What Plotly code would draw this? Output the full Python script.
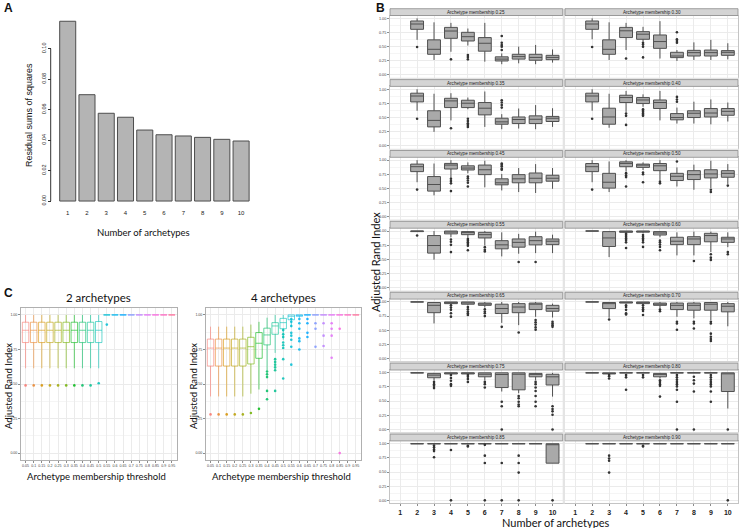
import math
import plotly.graph_objects as go

W, H = 740, 528

# ---------------- panel A: residual sums of squares
a_archetypes = [1, 2, 3, 4, 5, 6, 7, 8, 9, 10]
a_rss = [0.118, 0.0698, 0.0576, 0.055, 0.0466, 0.0435, 0.0427, 0.0418, 0.0405, 0.0394]

# ---------------- panel B: ARI per number of archetypes (2..10), one row per facet
b_memberships = ["0.25", "0.30", "0.35", "0.40", "0.45", "0.50", "0.55",
                 "0.60", "0.65", "0.70", "0.75", "0.80", "0.85", "0.90"]
b_archetypes = [2, 3, 4, 5, 6, 7, 8, 9, 10]
b_hi = [
    [1.0, 0.93, 0.92, 0.82, 0.92, 0.38, 0.50, 0.53, 0.45],
    [1.0, 0.93, 0.92, 0.85, 0.95, 0.44, 0.576, 0.62, 0.56],
    [1.0, 0.92, 0.93, 0.853, 0.96, 0.56, 0.66, 0.72, 0.665],
    [1.0, 0.92, 0.97, 0.91, 0.97, 0.676, 0.78, 0.82, 0.765],
    [1.0, 0.94, 1.0, 0.96, 0.99, 0.756, 0.86, 0.93, 0.86],
    [1.0, 0.977, 1.0, 0.96, 1.0, 0.872, 0.92, 0.99, 0.93],
    [1.0, 1.0, 1.0, 1.0, 1.0, 0.977, 0.95, 0.99, 0.936],
    [1.0, 1.0, 1.0, 1.0, 1.0, 0.977, 0.99, 0.99, 0.977],
    [1.0, 1.0, 1.0, 1.0, 1.0, 1.0, 1.0, 1.0, 0.97],
    [1.0, 1.0, 1.0, 1.0, 1.0, 1.0, 1.0, 1.0, 1.0],
    [1.0, 1.0, 1.0, 1.0, 1.0, 1.0, 1.0, 1.0, 1.0],
    [1.0, 1.0, 1.0, 1.0, 1.0, 1.0, 1.0, 1.0, 1.0],
    [1.0, 1.0, 1.0, 1.0, 1.0, 1.0, 1.0, 1.0, 1.0],
    [1.0, 1.0, 1.0, 1.0, 1.0, 1.0, 1.0, 1.0, 1.0],
]
b_q3 = [
    [0.953, 0.62, 0.84, 0.753, 0.66, 0.32, 0.365, 0.365, 0.347],
    [0.953, 0.62, 0.84, 0.765, 0.706, 0.40, 0.435, 0.44, 0.43],
    [0.93, 0.62, 0.84, 0.806, 0.765, 0.488, 0.51, 0.53, 0.52],
    [0.93, 0.665, 0.894, 0.853, 0.81, 0.57, 0.62, 0.66, 0.66],
    [0.93, 0.71, 0.942, 0.90, 0.913, 0.67, 0.744, 0.773, 0.733],
    [0.94, 0.767, 0.97, 0.93, 0.94, 0.767, 0.814, 0.83, 0.814],
    [1.0, 0.92, 1.0, 0.99, 0.977, 0.83, 0.86, 0.90, 0.86],
    [1.0, 0.99, 1.0, 1.0, 0.99, 0.89, 0.90, 0.96, 0.89],
    [1.0, 0.99, 1.0, 1.0, 0.98, 0.96, 0.97, 0.98, 0.94],
    [1.0, 0.99, 1.0, 1.0, 0.98, 0.98, 0.98, 0.99, 0.97],
    [1.0, 0.99, 1.0, 1.0, 1.0, 1.0, 1.0, 0.99, 0.975],
    [1.0, 1.0, 1.0, 1.0, 0.99, 1.0, 1.0, 1.0, 1.0],
    [1.0, 1.0, 1.0, 1.0, 1.0, 1.0, 1.0, 1.0, 1.0],
    [1.0, 1.0, 1.0, 1.0, 1.0, 1.0, 1.0, 1.0, 1.0],
]
b_med = [
    [0.90, 0.453, 0.776, 0.676, 0.56, 0.28, 0.324, 0.31, 0.31],
    [0.90, 0.453, 0.78, 0.72, 0.59, 0.335, 0.394, 0.394, 0.40],
    [0.88, 0.45, 0.794, 0.753, 0.665, 0.424, 0.465, 0.47, 0.488],
    [0.88, 0.51, 0.853, 0.81, 0.765, 0.50, 0.576, 0.58, 0.61],
    [0.884, 0.57, 0.913, 0.86, 0.83, 0.60, 0.67, 0.68, 0.68],
    [0.884, 0.61, 0.942, 0.913, 0.90, 0.715, 0.744, 0.756, 0.767],
    [1.0, 0.744, 0.99, 0.977, 0.936, 0.756, 0.80, 0.83, 0.82],
    [1.0, 0.878, 0.994, 0.994, 0.965, 0.82, 0.86, 0.92, 0.86],
    [1.0, 0.94, 0.994, 0.99, 0.97, 0.883, 0.91, 0.96, 0.883],
    [1.0, 0.97, 0.994, 0.994, 0.96, 0.94, 0.94, 0.96, 0.924],
    [1.0, 0.96, 0.995, 0.995, 0.975, 0.97, 0.975, 0.975, 0.93],
    [1.0, 0.99, 1.0, 1.0, 0.975, 1.0, 1.0, 1.0, 1.0],
    [1.0, 1.0, 1.0, 1.0, 1.0, 1.0, 1.0, 1.0, 1.0],
    [1.0, 1.0, 1.0, 1.0, 1.0, 1.0, 1.0, 1.0, 1.0],
]
b_q1 = [
    [0.806, 0.365, 0.647, 0.60, 0.42, 0.247, 0.28, 0.26, 0.27],
    [0.806, 0.365, 0.66, 0.63, 0.47, 0.306, 0.335, 0.335, 0.347],
    [0.776, 0.335, 0.676, 0.676, 0.547, 0.382, 0.394, 0.394, 0.43],
    [0.776, 0.382, 0.765, 0.747, 0.66, 0.46, 0.50, 0.51, 0.54],
    [0.797, 0.453, 0.843, 0.826, 0.744, 0.564, 0.60, 0.60, 0.628],
    [0.797, 0.506, 0.884, 0.872, 0.814, 0.64, 0.657, 0.686, 0.698],
    [0.99, 0.61, 0.95, 0.936, 0.878, 0.686, 0.715, 0.756, 0.76],
    [1.0, 0.727, 0.977, 0.98, 0.93, 0.76, 0.76, 0.81, 0.80],
    [1.0, 0.81, 0.97, 0.96, 0.94, 0.795, 0.81, 0.865, 0.836],
    [1.0, 0.883, 0.98, 0.97, 0.94, 0.865, 0.854, 0.854, 0.825],
    [1.0, 0.913, 0.98, 0.98, 0.93, 0.74, 0.70, 0.93, 0.785],
    [1.0, 0.98, 1.0, 1.0, 0.93, 1.0, 1.0, 1.0, 0.67],
    [1.0, 1.0, 1.0, 1.0, 1.0, 1.0, 1.0, 1.0, 0.657],
    [1.0, 1.0, 1.0, 1.0, 1.0, 1.0, 1.0, 1.0, 1.0],
]
b_lo = [
    [0.62, 0.265, 0.41, 0.52, 0.235, 0.19, 0.206, 0.19, 0.218],
    [0.63, 0.265, 0.44, 0.59, 0.29, 0.247, 0.265, 0.265, 0.276],
    [0.62, 0.247, 0.45, 0.647, 0.335, 0.294, 0.306, 0.294, 0.335],
    [0.62, 0.32, 0.60, 0.69, 0.45, 0.394, 0.394, 0.38, 0.43],
    [0.61, 0.378, 0.686, 0.767, 0.52, 0.465, 0.436, 0.42, 0.494],
    [0.61, 0.436, 0.80, 0.826, 0.65, 0.535, 0.477, 0.506, 0.58],
    [0.99, 0.494, 0.89, 0.878, 0.744, 0.552, 0.60, 0.61, 0.61],
    [1.0, 0.54, 0.96, 0.96, 0.89, 0.57, 0.57, 0.63, 0.715],
    [1.0, 0.62, 0.95, 0.94, 0.90, 0.63, 0.59, 0.737, 0.725],
    [1.0, 0.72, 0.97, 0.95, 0.883, 0.737, 0.71, 0.68, 0.57],
    [1.0, 0.87, 0.97, 0.97, 0.87, 0.67, 0.64, 0.87, 0.58],
    [1.0, 0.98, 1.0, 1.0, 0.90, 1.0, 1.0, 1.0, 0.37],
    [1.0, 1.0, 1.0, 1.0, 1.0, 1.0, 1.0, 1.0, 0.657],
    [1.0, 1.0, 1.0, 1.0, 1.0, 1.0, 1.0, 1.0, 1.0],
]
b_out = [
    [[0.494], [], [0.276], [0.353, 0.318, 0.276], [], [0.688, 0.57, 0.53, 0.50, 0.44], [], [], []],
    [[0.494], [], [0.29], [0.57, 0.54, 0.50, 0.31], [], [0.753, 0.63, 0.60, 0.57], [], [], []],
    [[0.48], [], [0.31], [0.48, 0.44, 0.40, 0.37, 0.335], [], [0.806, 0.765, 0.72, 0.676], [], [], []],
    [[0.48], [], [0.57, 0.53, 0.37], [0.647, 0.62, 0.60, 0.57, 0.55, 0.53], [], [0.865, 0.82, 0.78], [], [], []],
    [[0.48], [], [0.67, 0.63, 0.59, 0.453], [0.71, 0.68, 0.64, 0.60, 0.535], [], [0.94, 0.92, 0.89, 0.85, 0.83], [], [], []],
    [[0.48], [], [0.77, 0.73, 0.70, 0.535], [0.78, 0.75, 0.61], [0.62, 0.59], [0.977], [], [0.477, 0.436], [0.55]],
    [[0.92], [], [0.85, 0.81, 0.756, 0.628], [0.86, 0.83, 0.80, 0.77, 0.74, 0.66], [0.715, 0.67, 0.64], [], [0.453], [0.453], []],
    [[], [], [0.95, 0.93, 0.90, 0.87, 0.84, 0.80, 0.70], [0.93, 0.90, 0.87, 0.84, 0.80, 0.72],
     [0.83, 0.80, 0.76, 0.72, 0.66], [], [0.47], [0.59, 0.53, 0.49], [0.63, 0.59]],
    [[], [], [0.94, 0.90, 0.86, 0.80, 0.74], [0.91, 0.87, 0.83, 0.80, 0.77], [0.87, 0.83, 0.80, 0.75],
     [0.56], [0.46], [0.68, 0.64, 0.60, 0.55, 0.51], [0.65, 0.62, 0.59, 0.56]],
    [[], [0.69], [0.94, 0.91, 0.86, 0.80, 0.78], [0.94, 0.90, 0.87, 0.84, 0.77], [0.865, 0.836],
     [0.65, 0.62, 0.51], [0.65, 0.62, 0.53], [0.65, 0.62, 0.44, 0.386, 0.345, 0.31], []],
    [[], [0.84, 0.80, 0.77, 0.73], [0.96, 0.91, 0.86, 0.80, 0.77], [0.96, 0.93, 0.89, 0.84], [0.84, 0.80, 0.74],
     [0.49, 0.41, 0.0], [0.59, 0.55, 0.49, 0.44, 0.41], [0.84, 0.80, 0.74, 0.68, 0.59, 0.49, 0.41],
     [0.41, 0.36, 0.32, 0.26, 0.0]],
    [[], [0.96, 0.94, 0.90], [0.96, 0.92, 0.70], [0.96, 0.92], [0.87, 0.84, 0.80, 0.77, 0.58],
     [0.96, 0.92, 0.88, 0.84, 0.80, 0.76, 0.70, 0.49, 0.0], [0.93, 0.87, 0.81, 0.67, 0.0],
     [0.96, 0.92, 0.88, 0.84, 0.80, 0.76, 0.67, 0.49], [0.0]],
    [[], [0.97, 0.94, 0.90, 0.87, 0.76], [0.89, 0.0], [0.965, 0.95], [0.98, 0.79, 0.66, 0.0],
     [0.66, 0.0], [0.79, 0.66, 0.49, 0.0], [], [0.0]],
    [[], [0.79, 0.74, 0.70, 0.49], [], [0.965, 0.95], [], [], [], [], [0.0]],
]

# ---------------- panel C: ARI against membership threshold
c_thresholds = ["0.05", "0.1", "0.15", "0.2", "0.25", "0.3", "0.35", "0.4", "0.45", "0.5",
                "0.55", "0.6", "0.65", "0.7", "0.75", "0.8", "0.85", "0.9", "0.95"]
c2_hi = [1.0, 1.0, 1.0, 1.0, 1.0, 1.0, 1.0, 1.0, 1.0, 1.0, 1.0, 1.0, 1.0, 1.0, 1.0, 1.0, 1.0, 1.0, 1.0]
c2_q3 = [0.947, 0.947, 0.947, 0.947, 0.947, 0.947, 0.947, 0.947, 0.947, 0.952, 1.0, 1.0, 1.0, 1.0, 1.0, 1.0, 1.0, 1.0, 1.0]
c2_med = [0.889, 0.889, 0.889, 0.889, 0.889, 0.889, 0.889, 0.889, 0.889, 0.889, 1.0, 1.0, 1.0, 1.0, 1.0, 1.0, 1.0, 1.0, 1.0]
c2_q1 = [0.80, 0.80, 0.80, 0.80, 0.80, 0.80, 0.80, 0.80, 0.80, 0.80, 1.0, 1.0, 1.0, 1.0, 1.0, 1.0, 1.0, 1.0, 1.0]
c2_lo = [0.614, 0.614, 0.614, 0.614, 0.614, 0.614, 0.614, 0.614, 0.614, 0.614, 1.0, 1.0, 1.0, 1.0, 1.0, 1.0, 1.0, 1.0, 1.0]
c2_out = [[0.49], [0.49], [0.49], [0.49], [0.49], [0.49], [0.49], [0.49], [0.49], [0.505],
          [0.93], [], [], [], [], [], [], [], []]

c4_hi = [0.915, 0.915, 0.915, 0.915, 0.915, 0.93, 0.95, 0.98, 1.0, 1.0, 1.0, 1.0, 1.0, 1.0, 1.0, 1.0, 1.0, 1.0, 1.0]
c4_q3 = [0.825, 0.825, 0.825, 0.825, 0.825, 0.838, 0.872, 0.904, 0.944, 0.975, 1.0, 1.0, 1.0, 1.0, 1.0, 1.0, 1.0, 1.0, 1.0]
c4_med = [0.76, 0.76, 0.76, 0.76, 0.76, 0.77, 0.795, 0.855, 0.92, 0.944, 0.99, 1.0, 1.0, 1.0, 1.0, 1.0, 1.0, 1.0, 1.0]
c4_q1 = [0.63, 0.63, 0.63, 0.63, 0.63, 0.645, 0.686, 0.783, 0.86, 0.90, 0.965, 0.99, 1.0, 1.0, 1.0, 1.0, 1.0, 1.0, 1.0]
c4_lo = [0.41, 0.41, 0.41, 0.41, 0.41, 0.43, 0.46, 0.60, 0.725, 0.82, 0.91, 0.98, 1.0, 1.0, 1.0, 1.0, 1.0, 1.0, 1.0]
c4_out = [[0.28], [0.28], [0.28], [0.28], [0.28], [0.29], [0.32],
          [0.59, 0.57, 0.55, 0.45, 0.39],
          [0.68, 0.66, 0.64, 0.62, 0.60, 0.45],
          [0.89, 0.86, 0.84, 0.80, 0.78, 0.76, 0.68, 0.54],
          [0.97, 0.95, 0.92, 0.87, 0.85, 0.82, 0.77, 0.64],
          [0.97, 0.94, 0.90, 0.83, 0.81, 0.75],
          [0.97, 0.94, 0.87, 0.84],
          [0.94, 0.90, 0.77],
          [0.94, 0.85, 0.775],
          [0.94, 0.90, 0.85, 0.69],
          [0.90, 0.0],
          [], []]


def hue_rgb(h, c=100.0, l=65.0):
    # polarLUV -> sRGB, the way ggplot builds its default hue palette
    hr = math.radians(h)
    u, v = c * math.cos(hr), c * math.sin(hr)
    xn, yn, zn = 95.047, 100.0, 108.883
    den = xn + 15 * yn + 3 * zn
    un, vn = 4 * xn / den, 9 * yn / den
    y = yn * ((l + 16) / 116) ** 3
    up, vp = u / (13 * l) + un, v / (13 * l) + vn
    x = y * 9 * up / (4 * vp)
    z = y * (12 - 3 * up - 20 * vp) / (4 * vp)
    x, y, z = x / 100, y / 100, z / 100
    rgb = (3.240479 * x - 1.53715 * y - 0.498535 * z,
           -0.969256 * x + 1.875992 * y + 0.041556 * z,
           0.055648 * x - 0.204043 * y + 1.057311 * z)

    def gam(t):
        t = max(0.0, min(1.0, t))
        return 12.92 * t if t <= 0.0031308 else 1.055 * t ** (1 / 2.4) - 0.055
    return tuple(int(round(255 * gam(t))) for t in rgb)


def xdom(l, r):
    return [l / W, r / W]


def ydom(t, b):
    return [1 - b / H, 1 - t / H]


fig = go.Figure()
layout = {}
shapes = []
annots = []
GRID = "#ebebeb"
BORDER = "#8c8c8c"
PANEL = "#c4c4c4"
GAP = "#e4e4e4"

# ---------- A
fig.add_trace(go.Bar(x=a_archetypes, y=a_rss, width=0.833, marker=dict(color="#b4b4b4", line=dict(color="#4d4d4d", width=1)),
                     xaxis="x", yaxis="y", showlegend=False))
layout["xaxis"] = dict(domain=xdom(52.3, 256.5), range=[0.2, 10.8], tickvals=a_archetypes, showgrid=False,
                       zeroline=False, showline=False, ticks="", tickfont=dict(size=6, color="#222"), anchor="y")
layout["yaxis"] = dict(domain=ydom(14.1, 208.2), range=[-0.0047, 0.1227], tickvals=[0, 0.02, 0.04, 0.06, 0.08, 0.10],
                       tickformat=".2f", tickangle=-90, ticks="outside", ticklen=3, tickcolor="#333",
                       showgrid=False, zeroline=False, showline=False, anchor="free", position=50.7 / W,
                       tickfont=dict(size=5.5, color="#222"))
shapes.append(dict(type="line", xref="paper", yref="y", x0=50.7 / W, x1=50.7 / W, y0=0, y1=0.10,
                   line=dict(color="#333", width=1)))
annots += [
    dict(text="Residual sums of squares", x=29 / W, y=1 - 115 / H, textangle=-90, font=dict(size=9, family="Liberation Sans")),
    dict(text="Number of archetypes", x=143 / W, y=1 - 232 / H, font=dict(size=9.5, family="Lato")),
]

# ---------- B
# light grey band between the two facet columns
shapes.append(dict(type="rect", xref="paper", yref="paper", x0=562.7 / W, x1=565 / W,
                   y0=1 - 503.4 / H, y1=1 - 8.7 / H, fillcolor=GAP, line=dict(width=0)))
for k, memb in enumerate(b_memberships):
    idx = k + 2
    row, col = k // 2, k % 2
    xl, xr = (390, 562.7) if col == 0 else (565, 738)
    top = 15.5 + 70.9 * row
    bot = top + 62.3
    xa, ya = f"x{idx}", f"y{idx}"
    fig.add_trace(go.Box(x=b_archetypes, q1=b_q1[k], median=b_med[k], q3=b_q3[k],
                         lowerfence=b_lo[k], upperfence=b_hi[k], width=0.76, whiskerwidth=0,
                         boxpoints=False, fillcolor="#a9a9a9", line=dict(color="#505050", width=1),
                         xaxis=xa, yaxis=ya, showlegend=False, hoverinfo="skip"))
    ox, oy = [], []
    for a, pts in zip(b_archetypes, b_out[k]):
        for p in pts:
            ox.append(a)
            oy.append(p)
    fig.add_trace(go.Scatter(x=ox, y=oy, mode="markers", marker=dict(size=2.6, color="#333"),
                             xaxis=xa, yaxis=ya, showlegend=False, hoverinfo="skip"))
    layout[f"xaxis{idx}"] = dict(domain=xdom(xl, xr), range=[0.4, 10.6], tickvals=list(range(1, 11)),
                                 showticklabels=(row == 6), ticks="outside" if row == 6 else "", ticklen=2,
                                 tickcolor=BORDER, tickfont=dict(size=7, color="#222", weight="bold"),
                                 showgrid=True, gridcolor=GRID, gridwidth=0.8, zeroline=False,
                                 showline=True, mirror=True, linecolor=PANEL, linewidth=0.8, anchor=ya)
    layout[f"yaxis{idx}"] = dict(domain=ydom(top, bot), range=[-0.05, 1.05], tickvals=[0, 0.25, 0.5, 0.75, 1.0],
                                 tickformat=".2f", showticklabels=(col == 0), ticks="outside" if col == 0 else "",
                                 ticklen=2, tickcolor=BORDER, tickfont=dict(size=3.8, color="#444"),
                                 showgrid=True, gridcolor=GRID, gridwidth=0.8, zeroline=False,
                                 minor=dict(tickvals=[0.125, 0.375, 0.625, 0.875], showgrid=True, gridcolor="#f5f5f5"),
                                 showline=True, mirror=True, linecolor=PANEL, linewidth=0.8, anchor=xa)
    shapes.append(dict(type="rect", xref="paper", yref="paper", x0=xl / W, x1=xr / W,
                       y0=1 - top / H, y1=1 - (top - 6.8) / H, fillcolor="#d4d4d4",
                       line=dict(color=BORDER, width=0.8), layer="above"))
    if row < 6 and col == 0:
        # grey band between this row and the next strip
        shapes.append(dict(type="rect", xref="paper", yref="paper", x0=389 / W, x1=739 / W,
                           y0=1 - (top + 64.1) / H, y1=1 - bot / H, fillcolor=GAP, line=dict(width=0)))
    annots.append(dict(text=f"Archetype membership {memb}", x=(xl + xr) / 2 / W, y=1 - (top - 3.4) / H,
                       font=dict(size=4.6, color="#1a1a1a", family="Liberation Sans")))

annots += [
    dict(text="Adjusted Rand Index", x=375 / W, y=1 - 262 / H, textangle=-90, font=dict(size=11, family="Lato")),
    dict(text="Number of archetypes", x=556 / W, y=1 - 522 / H, font=dict(size=11, family="Lato")),
]

# ---------- C
hues = [15 + i * 360 / 19 for i in range(19)]
cols = [hue_rgb(h) for h in hues]
c_pos = list(range(1, 20))
panels = [
    (16, (20.7, 176.7), c2_lo, c2_q1, c2_med, c2_q3, c2_hi, c2_out, "2 archetypes", 8),
    (17, (205.7, 360.7), c4_lo, c4_q1, c4_med, c4_q3, c4_hi, c4_out, "4 archetypes", 193),
]
for idx, (xl, xr), lo, q1, med, q3, hi, out, title, ytx in panels:
    xa, ya = f"x{idx}", f"y{idx}"
    for i in range(19):
        r, g, b = cols[i]
        fig.add_trace(go.Box(x=[c_pos[i]], q1=[q1[i]], median=[med[i]], q3=[q3[i]],
                             lowerfence=[lo[i]], upperfence=[hi[i]], width=0.8, whiskerwidth=0,
                             boxpoints=False, fillcolor="rgba(255,255,255,0)",
                             line=dict(color=f"rgba({r},{g},{b},0.6)", width=1),
                             xaxis=xa, yaxis=ya, showlegend=False, hoverinfo="skip"))
        if out[i]:
            fig.add_trace(go.Scatter(x=[c_pos[i]] * len(out[i]), y=out[i], mode="markers",
                                     marker=dict(size=2.6, color=f"rgba({r},{g},{b},0.85)"),
                                     xaxis=xa, yaxis=ya, showlegend=False, hoverinfo="skip"))
    layout[f"xaxis{idx}"] = dict(domain=xdom(xl, xr), range=[0.4, 19.6], tickvals=c_pos, ticktext=c_thresholds,
                                 ticks="outside", ticklen=1.5, tickcolor=BORDER,
                                 tickfont=dict(size=3.6, color="#444"), showgrid=True, gridcolor=GRID,
                                 zeroline=False, showline=True, mirror=True, linecolor="#b0b0b0",
                                 linewidth=1.2, anchor=ya)
    layout[f"yaxis{idx}"] = dict(domain=ydom(308, 460), range=[-0.05, 1.05], tickvals=[0, 0.25, 0.5, 0.75, 1.0],
                                 tickformat=".2f", ticks="outside", ticklen=1.5, tickcolor=BORDER,
                                 tickfont=dict(size=3.6, color="#444"), showgrid=True, gridcolor=GRID,
                                 minor=dict(tickvals=[0.125, 0.375, 0.625, 0.875], showgrid=True, gridcolor="#f5f5f5"),
                                 zeroline=False, showline=True, mirror=True, linecolor="#b0b0b0",
                                 linewidth=1.2, anchor=xa)
    cx = (xl + xr) / 2
    annots += [
        dict(text=title, x=cx / W, y=1 - 297 / H, font=dict(size=11.5, family="Lato", color="#111")),
        dict(text="Adjusted Rand Index", x=ytx / W, y=1 - 386 / H, textangle=-90, font=dict(size=9.5, family="Lato")),
        dict(text="Archetype membership threshold", x=(cx - 2) / W, y=1 - 476 / H, font=dict(size=9.5, family="Lato")),
    ]

# panel letters
for lab, px, py in [("A", 8, 8), ("B", 381, 8), ("C", 8, 293)]:
    annots.append(dict(text=f"<b>{lab}</b>", x=px / W, y=1 - py / H, font=dict(size=12, family="Liberation Sans")))

for a in annots:
    a.update(xref="paper", yref="paper", showarrow=False, xanchor="center", yanchor="middle")
    a.setdefault("font", {}).setdefault("color", "#111")

fig.update_layout(width=W, height=H, margin=dict(l=0, r=0, t=0, b=0), paper_bgcolor="white",
                  plot_bgcolor="white", font=dict(family="Liberation Sans", color="#222"),
                  shapes=shapes, annotations=annots, boxmode="overlay", **layout)
# the page's default 8px body margin would push the 740x528 figure out of the window
fig.write_html("out.html", config={"displayModeBar": False},
               post_script="document.body.style.margin='0';document.body.style.overflow='hidden';")
